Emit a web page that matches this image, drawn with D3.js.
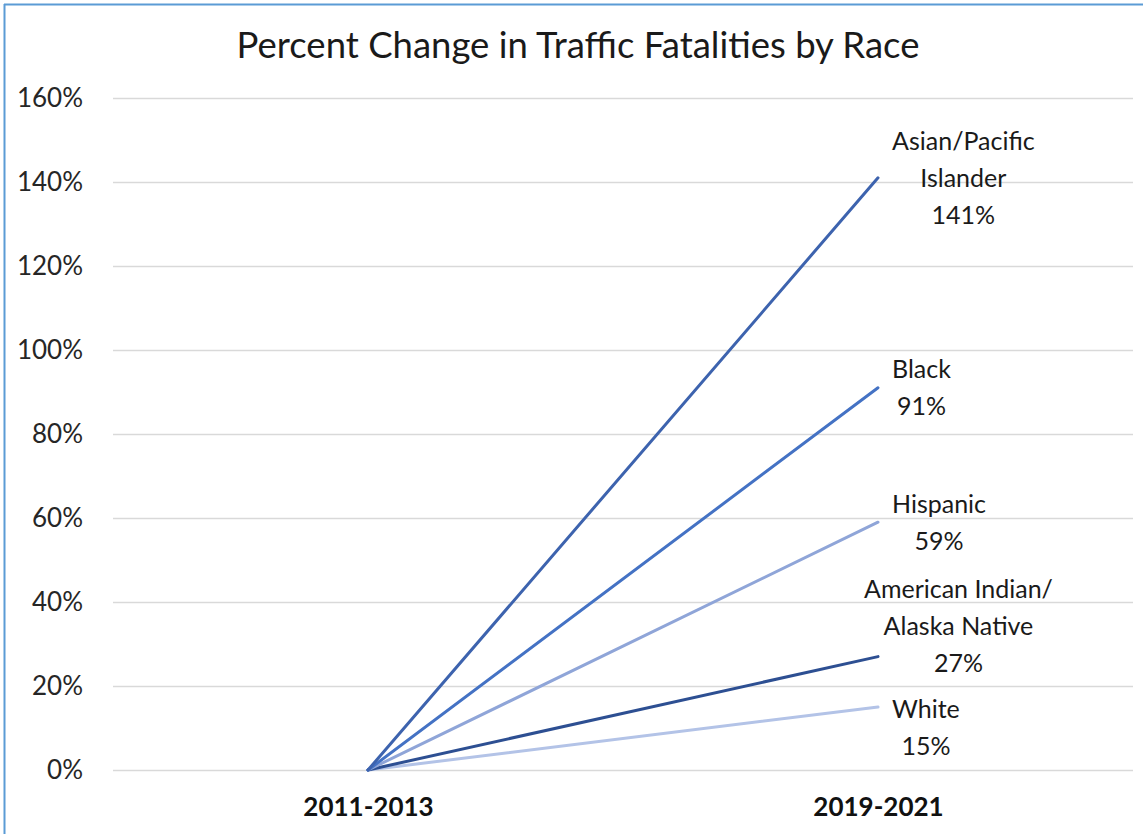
<!DOCTYPE html>
<html lang="en">
<head>
  <title>Percent Change in Traffic Fatalities by Race</title>
  <style type="text/css">
    body { margin: 0; background: #fff; }
    svg { display: block; font-family: Lato, "Open Sans", sans-serif; }
  </style>
  <script src="https://cdnjs.cloudflare.com/ajax/libs/d3/7.8.5/d3.min.js"></script>
</head>
<body>
<div id="chart"></div>
<script>
  // chart data
  var periods = ["2011-2013", "2019-2021"];
  var groups = ["Asian/Pacific Islander", "Black", "Hispanic", "American Indian/Alaska Native", "White"];
  var startValues = [0, 0, 0, 0, 0];
  var endValues = [141, 91, 59, 27, 15];
  var labelLines = [
    ["Asian/Pacific", "Islander", "141%"],
    ["Black", "91%"],
    ["Hispanic", "59%"],
    ["American Indian/", "Alaska Native", "27%"],
    ["White", "15%"]
  ];
  var yTicks = [0, 20, 40, 60, 80, 100, 120, 140, 160];

  var colors = ["#3D63AE", "#4472C4", "#8FA5D8", "#2D4F92", "#B3C3E7"];
  // manual label nudges, like the hand placed labels in the original
  var nudge = {
    "American Indian/Alaska Native": { dx: -28, dy: -31 },
    "White": { dx: 0, dy: 20 }
  };

  var w = 1143, h = 834;
  var mLeft = 113, mRight = 1133, mTop = 98, mBottom = 770;

  var svg = d3.select("#chart").append("svg")
    .attr("width", w)
    .attr("height", h);

  // border (only top and left show in the crop)
  svg.append("line").attr("x1", 4).attr("x2", w).attr("y1", 4.5).attr("y2", 4.5)
    .attr("stroke", "#5B9BD5").attr("stroke-width", 2);
  svg.append("line").attr("x1", 4.5).attr("x2", 4.5).attr("y1", 4).attr("y2", h)
    .attr("stroke", "#5B9BD5").attr("stroke-width", 2);

  var x = d3.scalePoint()
    .domain(periods)
    .range([mLeft, mRight])
    .padding(0.5);

  var y = d3.scaleLinear()
    .domain([0, 160])
    .range([mBottom, mTop]);

  // title
  svg.append("text")
    .attr("x", 578)
    .attr("y", 58)
    .attr("text-anchor", "middle")
    .style("font-size", "36.5px")
    .style("fill", "#1a1a1a")
    .text("Percent Change in Traffic Fatalities by Race");

  // gridlines + y labels
  var yAxis = d3.axisLeft(y)
    .tickValues(yTicks)
    .tickSize(-(mRight - mLeft))
    .tickPadding(30)
    .tickFormat(function(d) { return d + "%"; });

  var gy = svg.append("g")
    .attr("transform", "translate(" + mLeft + ",0)")
    .call(yAxis);
  gy.select(".domain").remove();
  gy.selectAll(".tick line")
    .attr("stroke", "#D9D9D9")
    .attr("stroke-width", 1.5);
  gy.selectAll(".tick text")
    .style("font-size", "26px")
    .style("font-family", "Lato, sans-serif")
    .style("fill", "#262626");

  // x labels
  var xAxis = d3.axisBottom(x).tickSize(0).tickPadding(28);
  var gx = svg.append("g")
    .attr("transform", "translate(0," + mBottom + ")")
    .call(xAxis);
  gx.select(".domain").remove();
  gx.selectAll(".tick text")
    .style("font-size", "26px")
    .style("font-weight", "bold")
    .style("font-family", "Lato, sans-serif")
    .style("fill", "#111");

  // lines
  var rows = groups.map(function(g, i) {
    return { name: g, values: [startValues[i], endValues[i]], color: colors[i], lines: labelLines[i] };
  });

  var line = d3.line()
    .x(function(d, i) { return x(periods[i]); })
    .y(function(d) { return y(d); });

  // draw from bottom up so the steeper lines sit on top
  svg.append("g").selectAll("path")
    .data(rows.slice().reverse())
    .enter().append("path")
    .attr("d", function(d) { return line(d.values); })
    .attr("fill", "none")
    .attr("stroke", function(d) { return d.color; })
    .attr("stroke-width", 3)
    .attr("stroke-linecap", "round");

  // data labels
  var lineH = 37;
  rows.forEach(function(r) {
    var px = x(periods[1]), py = y(r.values[1]);
    var n = nudge[r.name] || { dx: 0, dy: 0 };
    var t = svg.append("text")
      .attr("text-anchor", "middle")
      .style("font-size", "25px")
      .style("fill", "#1a1a1a");
    r.lines.forEach(function(s, k) {
      t.append("tspan").attr("x", 0).attr("y", (k - (r.lines.length - 1) / 2) * lineH).text(s);
    });
    var widest = d3.max(t.selectAll("tspan").nodes(), function(nd) { return nd.getComputedTextLength(); });
    t.attr("transform", "translate(" + (px + 14 + widest / 2 + n.dx) + "," + (py + 9 + n.dy) + ")");
  });
</script>
</body>
</html>
